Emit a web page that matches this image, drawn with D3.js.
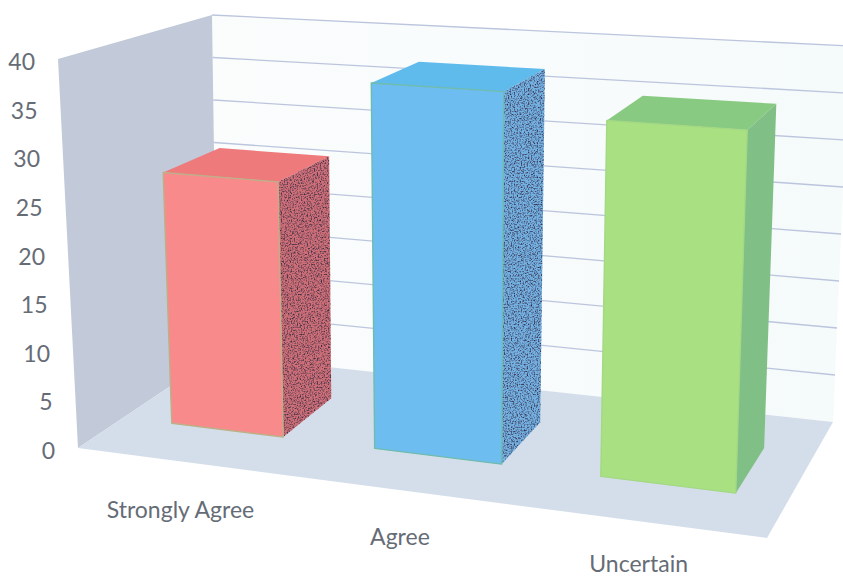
<!DOCTYPE html>
<html lang="en">
<head>
    <meta charset="UTF-8">
    <title>Survey Responses</title>
    <script src="https://d3js.org/d3.v7.min.js"></script>
    <style>
        html, body {
            margin: 0;
            padding: 0;
            background: #ffffff;
            overflow: hidden;
        }

        svg {
            display: block;
        }

        text {
            font-family: Lato, "Open Sans", sans-serif;
            fill: #666c76;
        }

        .grid {
            fill: none;
            stroke: #bcc5de;
            stroke-width: 1.3px;
        }
    </style>
</head>
<body>
    <svg width="843" height="578"></svg>

    <script>
        const categories = ["Strongly Agree", "Agree", "Uncertain"];
        const responses = [26.7, 37.7, 35.5];
        const valueTicks = [0, 5, 10, 15, 20, 25, 30, 35, 40];

        // front, side and top face colours per category
        const frontColors = ["#f98a8c", "#6dbdf0", "#a9e182"];
        const sideColors = ["#cf7078", "#74b2e4", "#80bf86"];
        const topColors = ["#ee7a7c", "#5fbbec", "#89ca82"];
        const edgeColors = ["#bdb088", "#6fbcae", "#a3d884"];

        // corners of the plot box on screen: [front|back][left|right][bottom|top]
        const corners = {
            flb: [78, 448], flt: [58, 59],
            frb: [767, 538], frt: [782, 108],
            blb: [217, 355], blt: [212, 15],
            brb: [833, 422], brt: [849, 46]
        };

        const svg = d3.select("svg");

        const valueScale = d3.scaleLinear().domain([0, 40]).range([0, 1]);

        const band = d3.scaleBand()
            .domain(categories)
            .range([0.0137, 0.9983])
            .paddingInner(0.43)
            .paddingOuter(0.215);

        // bars get a little wider toward the right of the box
        const widen = d3.scalePow().exponent(1.12).domain([0, 1]).range([0.01, 1]);

        // category label baselines step down the page
        const labelY = d3.scalePoint().domain(categories).range([518, 572]);

        const barFront = 0.33, barBack = 0.725;

        function mix(a, b, t) {
            return [d3.interpolateNumber(a[0], b[0])(t), d3.interpolateNumber(a[1], b[1])(t)];
        }

        // u across the box, v up it (0-1), w front to back
        function project(u, v, w) {
            const bottom = mix(mix(corners.flb, corners.frb, u), mix(corners.blb, corners.brb, u), w);
            const top = mix(mix(corners.flt, corners.frt, u), mix(corners.blt, corners.brt, u), w);
            return mix(bottom, top, v);
        }

        const polygon = pts => d3.line()(pts) + "Z";

        const defs = svg.append("defs");

        const wallFade = defs.append("linearGradient")
            .attr("id", "wallFade")
            .attr("x1", 0).attr("x2", 1).attr("y1", 0).attr("y2", 0);
        wallFade.append("stop").attr("offset", 0).attr("stop-color", "#fbfdfd");
        wallFade.append("stop").attr("offset", 1).attr("stop-color", "#f5fafa");

        // speckled shading for the side faces
        const stipple = defs.append("filter")
            .attr("id", "stipple")
            .attr("color-interpolation-filters", "sRGB")
            .attr("x", 0).attr("y", 0).attr("width", 1).attr("height", 1);
        stipple.append("feTurbulence")
            .attr("type", "fractalNoise")
            .attr("baseFrequency", 0.7)
            .attr("numOctaves", 2)
            .attr("seed", 4)
            .attr("result", "noise");
        stipple.append("feColorMatrix")
            .attr("in", "noise")
            .attr("type", "matrix")
            .attr("values", "0 0 0 0 0.2  0 0 0 0 0.16  0 0 0 0 0.26  2.6 0 0 0 -1.15")
            .attr("result", "dots");
        stipple.append("feComposite")
            .attr("in", "dots")
            .attr("in2", "SourceAlpha")
            .attr("operator", "in")
            .attr("result", "clipped");
        const merge = stipple.append("feMerge");
        merge.append("feMergeNode").attr("in", "SourceGraphic");
        merge.append("feMergeNode").attr("in", "clipped");

        // back wall, side wall, floor
        svg.append("path")
            .attr("d", polygon([project(0, 0, 1), project(0, 1, 1), project(1, 1, 1), project(1, 0, 1)]))
            .attr("fill", "url(#wallFade)");

        svg.append("path")
            .attr("d", polygon([project(0, 0, 0), project(0, 1, 0), project(0, 1, 1), project(0, 0, 1)]))
            .attr("fill", "#c2cad9");

        svg.append("path")
            .attr("d", polygon([project(0, 0, 0), project(1, 0, 0), project(1, 0, 1), project(0, 0, 1)]))
            .attr("fill", "#d4deea");

        // gridlines on the back wall
        svg.append("g").selectAll("path")
            .data(valueTicks.filter(d => d > 0))
            .enter().append("path")
            .attr("class", "grid")
            .attr("d", d => d3.line()([project(0, valueScale(d), 1), project(1, valueScale(d), 1)]));

        const data = categories.map((name, i) => ({name, value: responses[i], i}));

        const bars = svg.append("g").selectAll("g")
            .data(data)
            .enter().append("g");

        const x0 = d => widen(band(d.name));
        const x1 = d => widen(band(d.name) + band.bandwidth());

        // top face
        bars.append("path")
            .attr("fill", d => topColors[d.i])
            .attr("d", d => {
                const v = valueScale(d.value);
                return polygon([project(x0(d), v, barFront), project(x1(d), v, barFront),
                                project(x1(d), v, barBack), project(x0(d), v, barBack)]);
            });

        // right side face
        bars.append("path")
            .attr("fill", d => sideColors[d.i])
            .attr("filter", d => d.i < 2 ? "url(#stipple)" : null)
            .attr("d", d => {
                const v = valueScale(d.value);
                return polygon([project(x1(d), 0, barFront), project(x1(d), v, barFront),
                                project(x1(d), v, barBack), project(x1(d), 0, barBack)]);
            });

        // front face
        bars.append("path")
            .attr("fill", d => frontColors[d.i])
            .attr("stroke", d => edgeColors[d.i])
            .attr("stroke-width", 1.4)
            .attr("stroke-linejoin", "round")
            .attr("d", d => {
                const v = valueScale(d.value);
                return polygon([project(x0(d), 0, barFront), project(x0(d), v, barFront),
                                project(x1(d), v, barFront), project(x1(d), 0, barFront)]);
            });

        // value labels follow the front edge of the side wall
        svg.append("g").selectAll("text")
            .data(valueTicks)
            .enter().append("text")
            .attr("text-anchor", "end")
            .attr("font-size", 23)
            .attr("x", d => project(0, valueScale(d), 0)[0] - 23)
            .attr("y", d => project(0, valueScale(d), 0)[1] + 11)
            .text(d => d);

        // category labels below the front edge of the floor
        svg.append("g").selectAll("text")
            .data(categories)
            .enter().append("text")
            .attr("text-anchor", "middle")
            .attr("font-size", 23)
            .attr("x", d => project(widen(band(d) + band.bandwidth() / 2), 0, 0)[0] - 3)
            .attr("y", d => labelY(d))
            .text(d => d);
    </script>
</body>
</html>
